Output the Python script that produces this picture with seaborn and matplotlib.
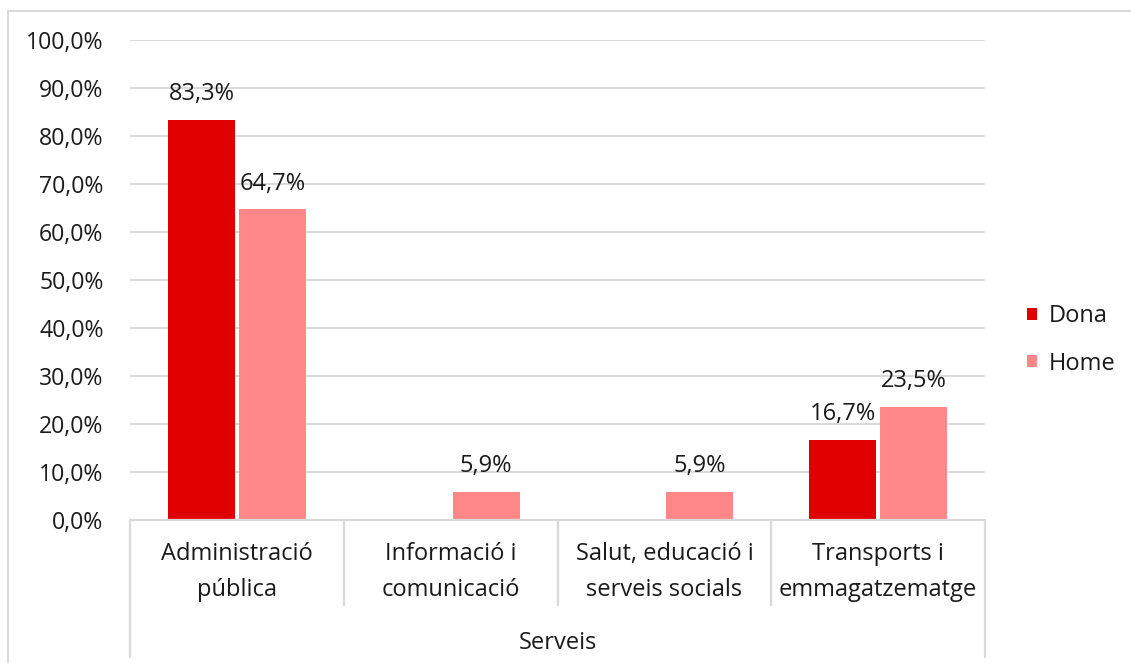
import matplotlib
matplotlib.use("Agg")
import matplotlib.pyplot as plt
from matplotlib.lines import Line2D
import matplotlib.transforms as mtransforms
import seaborn as sns
import pandas as pd

# Data
categories = ["Administració\npública", "Informació i\ncomunicació",
              "Salut, educació i\nserveis socials", "Transports i\nemmagatzematge"]
group_label = "Serveis"
series_names = ["Dona", "Home"]
dona = [83.3, 0.0, 0.0, 16.7]
home = [64.7, 5.9, 5.9, 23.5]
y_ticks = [0, 10, 20, 30, 40, 50, 60, 70, 80, 90, 100]

colors = {"Dona": "#E00000", "Home": "#FF8787"}
grid_color = "#D9D9D9"
text_color = "#1A1A1A"

sns.set_theme(style="white")
plt.rcParams["font.family"] = ["Open Sans", "DejaVu Sans"]
plt.rcParams["text.color"] = text_color
FS = 17
FS_TICK = 16.6

df = pd.DataFrame({
    "categoria": categories * 2,
    "sexe": [series_names[0]] * len(categories) + [series_names[1]] * len(categories),
    "valor": dona + home,
})

W, H = 1131, 663
fig = plt.figure(figsize=(W / 100, H / 100), dpi=100)
ax = fig.add_axes([130 / W, 1 - 520 / H, (985 - 130) / W, 480 / H])

sns.barplot(data=df, x="categoria", y="valor", hue="sexe", order=categories,
            hue_order=series_names, palette=colors, width=0.664, gap=0.056,
            saturation=1, ax=ax, legend=True, linewidth=0)

ax.set_xlim(-0.5, len(categories) - 0.5)
ax.set_ylim(0, 100)
ax.set_yticks(y_ticks)
ax.set_yticklabels([f"{v:.1f}".replace(".", ",") + "%" for v in y_ticks],
                   fontsize=FS_TICK, color=text_color)
ax.tick_params(axis="y", length=0, pad=19)
ax.set_xticks([])
ax.set_xlabel("")
ax.set_ylabel("")
ax.set_axisbelow(True)
ax.yaxis.grid(True, color=grid_color, linewidth=1.4)
for side in ["left", "right", "top"]:
    ax.spines[side].set_visible(False)
ax.spines["bottom"].set_color(grid_color)
ax.spines["bottom"].set_linewidth(1.6)

# Value labels (empty bars carry no label)
for cont in ax.containers:
    labels = [("" if b.get_height() == 0 else f"{b.get_height():.1f}".replace(".", ",") + "%")
              for b in cont]
    ax.bar_label(cont, labels=labels, padding=10, fontsize=FS, color=text_color)

# Two-level category axis
trans = mtransforms.blended_transform_factory(ax.transData, ax.transAxes)
n = len(categories)
for i, cat in enumerate(categories):
    ax.text(i, -52 / 480, cat, transform=trans, ha="center", va="center",
            fontsize=FS, linespacing=1.65, color=text_color)
for k in range(n + 1):
    xb = k - 0.5
    y_end = -137 / 480 if k in (0, n) else -85 / 480
    ax.plot([xb, xb], [0, y_end], transform=trans, color=grid_color,
            linewidth=1.6, clip_on=False)
ax.text((n - 1) / 2, -123 / 480, group_label, transform=trans, ha="center",
        va="center", fontsize=FS, color=text_color)

# Legend
leg = ax.legend(loc="center left", bbox_to_anchor=(1015 / W, 1 - 340 / H),
                bbox_transform=fig.transFigure, frameon=False, fontsize=FS,
                handlelength=0.42, handleheight=0.42, handletextpad=0.5,
                labelspacing=1.0, borderpad=0)
for t in leg.get_texts():
    t.set_color(text_color)

# Outer chart border
fig.add_artist(Line2D([8 / W, 1.0], [1 - 11 / H, 1 - 11 / H], color=grid_color,
                      linewidth=1.4, transform=fig.transFigure))
fig.add_artist(Line2D([8 / W, 8 / W], [1 - 11 / H, 0.0], color=grid_color,
                      linewidth=1.4, transform=fig.transFigure))

fig.savefig("out.png", dpi=100, facecolor="white")
